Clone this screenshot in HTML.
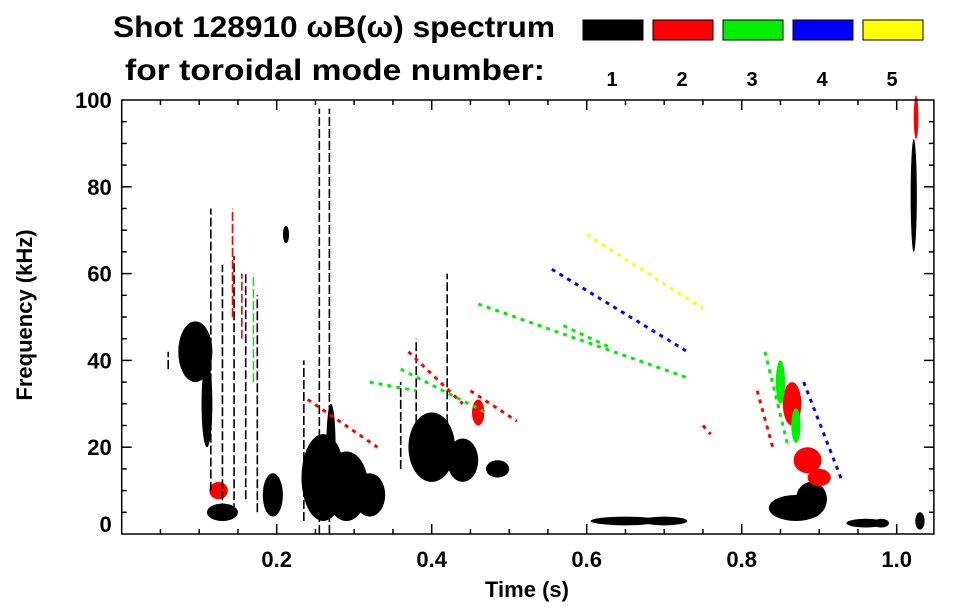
<!DOCTYPE html>
<html><head><meta charset="utf-8"><style>
html,body{margin:0;padding:0;background:#fff;}
svg{display:block;font-family:"Liberation Sans",sans-serif;font-weight:bold;}
</style></head><body>
<svg id="c" width="963" height="615" viewBox="0 0 963 615">
<text x="113" y="37" font-size="30" textLength="442" lengthAdjust="spacingAndGlyphs">Shot 128910 ωB(ω) spectrum</text>
<text x="125" y="80" font-size="30" textLength="420" lengthAdjust="spacingAndGlyphs">for toroidal mode number:</text>
<g id="legend"></g>
<g id="marks"></g>
<g id="axes"></g>
<text x="527" y="597" font-size="22" text-anchor="middle">Time (s)</text>
<text transform="translate(32,315) rotate(-90)" font-size="22" text-anchor="middle">Frequency (kHz)</text>
</svg>
<script>
const modeLabels=["1","2","3","4","5"];
const modeColors=["#000000","#ff0000","#00ee00","#0000ff","#ffff00"];
const xTicks=[0.2,0.4,0.6,0.8,1.0];
const xTickLabels=["0.2","0.4","0.6","0.8","1.0"];
const yTicks=[0,20,40,60,80,100];
// blobs: mode, time center, freq center, time half-width, freq half-height
const blobMode=[0,0,0,0,0,0,0,0,0,0,0,0,0,0,0,0,0,0,1,1,1,1,1,1,2,2,0,0];
const blobT=[0.095,0.11,0.195,0.212,0.26,0.29,0.32,0.40,0.44,0.485,0.87,0.89,0.96,1.03,0.13,0.98,0.65,0.70,0.125,0.865,0.885,0.90,0.46,1.025,0.85,0.87,1.022,0.27];
const blobF=[42,30,9,69,13,11,9,20,17,15,6,8,2.5,3,5,2.5,3,3,10,30,17,13,28,96,35,25,78,20];
const blobRT=[0.022,0.007,0.013,0.004,0.028,0.028,0.02,0.03,0.02,0.015,0.035,0.02,0.025,0.006,0.02,0.01,0.045,0.03,0.012,0.012,0.018,0.015,0.008,0.003,0.006,0.006,0.004,0.006];
const blobRF=[7,10,5,2,10,8,5,8,5,2,3,4,1,2,2,1,1,1,2,5,3,2,3,5,5,4,13,10];
// streaks: mode, time, freq low, freq high
const strMode=[0,0,0,0,0,0,0,0,0,0,1,1,2,0,0];
const strT=[0.115,0.13,0.145,0.16,0.175,0.255,0.268,0.38,0.36,0.42,0.143,0.155,0.17,0.06,0.235];
const strF0=[10,5,5,8,5,0,0,20,15,20,50,45,35,38,3];
const strF1=[75,62,64,60,55,98,98,45,35,60,75,60,60,42,40];
// chirps: mode, t0, f0, t1, f1
const chMode=[1,1,1,2,2,3,4,2,1,2,3,1,2];
const chT0=[0.24,0.37,0.45,0.46,0.32,0.555,0.60,0.36,0.82,0.83,0.88,0.75,0.57];
const chF0=[31,42,33,53,35,61,69,38,33,42,35,25,48];
const chT1=[0.33,0.44,0.51,0.73,0.38,0.73,0.75,0.47,0.84,0.86,0.93,0.76,0.63];
const chF1=[20,30,26,36,33,42,52,28,20,20,12,23,43];

const NS="http://www.w3.org/2000/svg";
const X0=121.7,XS=775,Y0=534,YS=4.34;
const xs=t=>X0+t*XS, ys=f=>Y0-f*YS;
function mk(tag,attrs,parent){const e=document.createElementNS(NS,tag);for(const k in attrs)e.setAttribute(k,attrs[k]);parent.appendChild(e);return e;}
const marks=document.getElementById('marks');
const axes=document.getElementById('axes');
const legend=document.getElementById('legend');

modeLabels.forEach((lab,i)=>{
  const r=mk('rect',{x:583+i*70,y:20,width:60,height:20,fill:modeColors[i],stroke:'#000','stroke-width':1},legend);
  
  
  const t=mk('text',{x:612+i*70,y:86,'font-size':20,'text-anchor':'middle'},legend);
  t.textContent=lab;
  
  
});

blobT.forEach((t,i)=>{
  const e=mk('ellipse',{cx:xs(t),cy:ys(blobF[i]),rx:blobRT[i]*XS,ry:blobRF[i]*YS,fill:modeColors[blobMode[i]]},marks);
  
  
});
strT.forEach((t,i)=>{
  const l=mk('line',{x1:xs(t),x2:xs(t),y1:ys(strF0[i]),y2:ys(strF1[i]),stroke:modeColors[strMode[i]],'stroke-width':1.6,'stroke-dasharray':'9 3'},marks);
  
  
});
chT0.forEach((t,i)=>{
  const l=mk('line',{x1:xs(t),y1:ys(chF0[i]),x2:xs(chT1[i]),y2:ys(chF1[i]),stroke:modeColors[chMode[i]],'stroke-width':3,'stroke-dasharray':'4 5'},marks);
  
  
});

const frame=mk('rect',{x:X0,y:ys(100),width:xs(1.048)-X0,height:Y0-ys(100),fill:'none',stroke:'#000','stroke-width':1.5},axes);


const R=xs(1.048),T=ys(100);
for(let k=1;k<=20;k++){const t=k*0.05;if(t>1.048)break;const len=(k%4===0)?10:5;
  mk('line',{x1:xs(t),x2:xs(t),y1:Y0,y2:Y0-len,stroke:'#000','stroke-width':1.5},axes);
  mk('line',{x1:xs(t),x2:xs(t),y1:T,y2:T+len,stroke:'#000','stroke-width':1.5},axes);}
for(let k=1;k<20;k++){const f=k*5;const len=(k%4===0)?10:5;
  mk('line',{x1:X0,x2:X0+len,y1:ys(f),y2:ys(f),stroke:'#000','stroke-width':1.5},axes);
  mk('line',{x1:R,x2:R-len,y1:ys(f),y2:ys(f),stroke:'#000','stroke-width':1.5},axes);}
xTicks.forEach((t,i)=>{const e=mk('text',{x:xs(t),y:Y0+33,'font-size':22,'text-anchor':'middle'},axes);e.textContent=xTickLabels[i];
  
  });
yTicks.forEach(f=>{const e=mk('text',{x:X0-10,y:Math.min(ys(f)+8,Y0-2),'font-size':22,'text-anchor':'end'},axes);e.textContent=String(f);
  
  });
</script>
</body></html>
